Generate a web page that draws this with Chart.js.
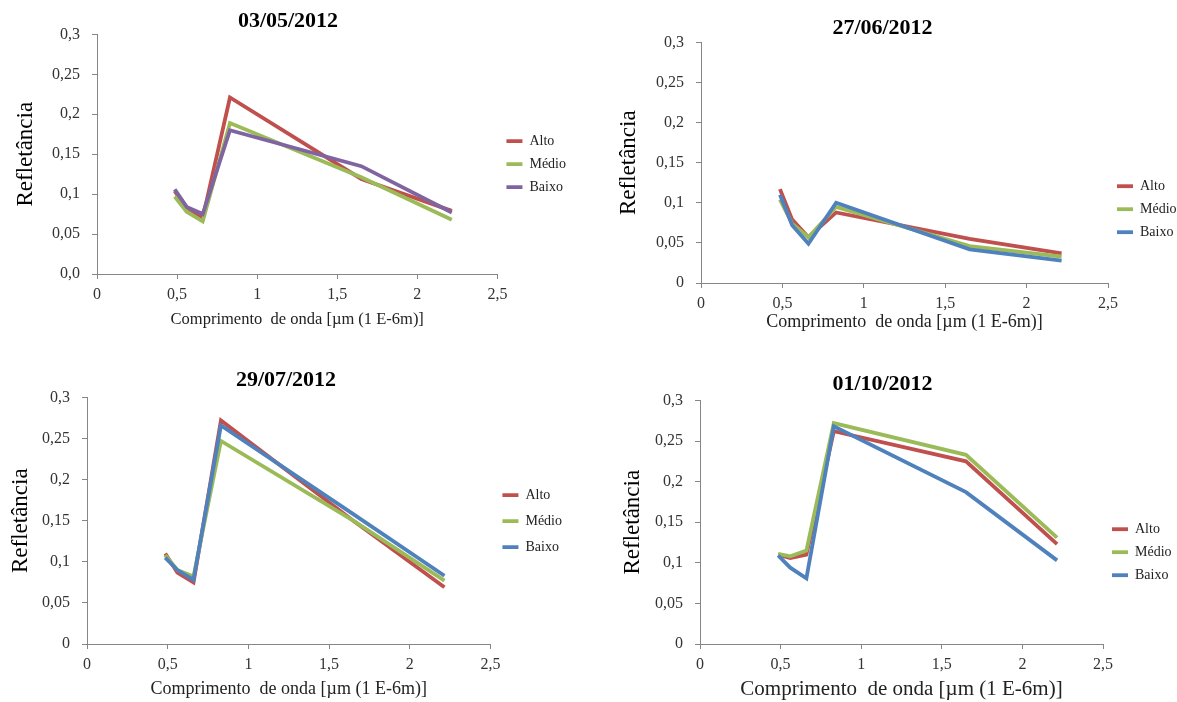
<!DOCTYPE html>
<html>
<head>
<meta charset="utf-8">
<script src="https://cdn.jsdelivr.net/npm/chart.js@4"></script>
<style>
  body { margin: 0; background: #fff; width: 1177px; height: 702px; position: relative; overflow: hidden; }
  .box { position: absolute; }
</style>
</head>
<body>
<div class="box" style="left:0;top:0;"><canvas id="c1" width="588" height="340"></canvas></div>
<div class="box" style="left:588px;top:0;"><canvas id="c2" width="589" height="340"></canvas></div>
<div class="box" style="left:0;top:355px;"><canvas id="c3" width="588" height="347"></canvas></div>
<div class="box" style="left:588px;top:355px;"><canvas id="c4" width="589" height="347"></canvas></div>
<script>
// comprimentos de onda (bandas TM)
const wavelengths = [0.485, 0.56, 0.66, 0.83, 1.65, 2.215];
const seriesNames = ["Alto", "Médio", "Baixo"];
const xTickLabels = ["0", "0,5", "1", "1,5", "2", "2,5"];
const yTickLabelsA = ["0,0", "0,05", "0,1", "0,15", "0,2", "0,25", "0,3"];
const yTickLabelsB = ["0", "0,05", "0,1", "0,15", "0,2", "0,25", "0,3"];

// 03/05/2012
const alto0305 = [0.104, 0.081, 0.070, 0.221, 0.119, 0.079];
const medio0305 = [0.097, 0.078, 0.066, 0.189, 0.121, 0.068];
const baixo0305 = [0.106, 0.084, 0.075, 0.180, 0.135, 0.077];
// 27/06/2012
const alto2706 = [0.117, 0.079, 0.057, 0.088, 0.055, 0.037];
const medio2706 = [0.104, 0.074, 0.057, 0.095, 0.046, 0.033];
const baixo2706 = [0.110, 0.072, 0.049, 0.100, 0.042, 0.028];
// 29/07/2012
const alto2907 = [0.110, 0.087, 0.075, 0.272, 0.150, 0.069];
const medio2907 = [0.108, 0.090, 0.082, 0.247, 0.150, 0.077];
const baixo2907 = [0.105, 0.090, 0.078, 0.266, 0.158, 0.083];
// 01/10/2012
const alto0110 = [0.110, 0.106, 0.110, 0.262, 0.225, 0.123];
const medio0110 = [0.111, 0.108, 0.115, 0.272, 0.233, 0.131];
const baixo0110 = [0.109, 0.094, 0.081, 0.268, 0.187, 0.103];

const RED = "#C0504D", GREEN = "#9BBB59", BLUE = "#4F81BD", PURPLE = "#8064A2";
const FONT = "'Liberation Serif', 'Times New Roman', serif";
const AXIS = "#868686";

function makeChart(id, cfg) {
  const colors = [RED, GREEN, cfg.lastColor];
  const series = [cfg.alto, cfg.medio, cfg.baixo];
  // Baixo primeiro para ficar por cima das outras linhas
  const datasets = [2, 1, 0].map(i => ({
    label: seriesNames[i],
    data: wavelengths.map((w, k) => ({ x: w, y: series[i][k] })),
    borderColor: colors[i],
    backgroundColor: colors[i],
    borderWidth: 3.8,
    pointRadius: 0,
    tension: 0,
    fill: false
  }));

  return new Chart(document.getElementById(id), {
    type: "line",
    data: { datasets },
    options: {
      responsive: false,
      animation: false,
      layout: { padding: { left: 0, right: cfg.padRight, top: 0, bottom: 0 } },
      plugins: {
        title: {
          display: true,
          text: cfg.title,
          color: "#000",
          font: { family: FONT, size: 22, weight: "bold" },
          padding: cfg.titlePad
        },
        legend: {
          position: "right",
          align: "start",
          reverse: true,
          maxWidth: cfg.legendWidth,
          title: { display: true, text: " ", padding: { top: cfg.legendTop, bottom: 0 }, font: { size: 1 } },
          labels: {
            usePointStyle: true,
            pointStyle: "line",
            pointStyleWidth: 16,
            color: "#222",
            padding: cfg.legendGap,
            font: { family: FONT, size: 14 }
          }
        },
        tooltip: { enabled: false }
      },
      scales: {
        x: {
          type: "linear",
          min: 0,
          max: 2.5,
          afterFit: s => { s.height = cfg.xHeight; },
          ticks: {
            stepSize: 0.5,
            color: "#333",
            padding: 6,
            font: { family: FONT, size: 16 },
            callback: (v, i) => xTickLabels[i]
          },
          grid: { display: true, drawOnChartArea: false, drawTicks: true, tickLength: 5, color: AXIS },
          border: { color: AXIS },
          title: {
            display: true,
            text: "Comprimento  de onda [µm (1 E-6m)]",
            color: "#222",
            font: { family: FONT, size: cfg.xTitleSize },
            padding: { top: 0, bottom: cfg.xTitlePad }
          }
        },
        y: {
          min: 0,
          max: 0.3,
          afterFit: s => { s.width = cfg.yWidth; },
          ticks: {
            stepSize: 0.05,
            color: "#333",
            padding: 12,
            font: { family: FONT, size: 16 },
            callback: (v, i) => cfg.yLabels[i]
          },
          grid: { display: true, drawOnChartArea: false, drawTicks: true, tickLength: 5, color: AXIS },
          border: { color: AXIS },
          title: {
            display: true,
            text: "Refletância",
            color: "#000",
            font: { family: FONT, size: 23 },
            padding: { top: cfg.yTitlePad, bottom: 0 }
          }
        }
      }
    }
  });
}

makeChart("c1", {
  title: "03/05/2012", alto: alto0305, medio: medio0305, baixo: baixo0305, lastColor: PURPLE,
  yLabels: yTickLabelsA, yWidth: 97, xHeight: 66, titlePad: { top: 8, bottom: 0 },
  xTitleSize: 16.5, xTitlePad: 10, yTitlePad: 12, padRight: 12, legendWidth: 81,
  legendTop: 124, legendGap: 9
});
makeChart("c2", {
  title: "27/06/2012", alto: alto2706, medio: medio2706, baixo: baixo2706, lastColor: BLUE,
  yLabels: yTickLabelsB, yWidth: 113, xHeight: 57, titlePad: { top: 15, bottom: 1 },
  xTitleSize: 18, xTitlePad: 7, yTitlePad: 27, padRight: 0, legendWidth: 69,
  legendTop: 169, legendGap: 9
});
makeChart("c3", {
  title: "29/07/2012", alto: alto2907, medio: medio2907, baixo: baixo2907, lastColor: BLUE,
  yLabels: yTickLabelsB, yWidth: 87, xHeight: 58, titlePad: { top: 12, bottom: 4 },
  xTitleSize: 18, xTitlePad: 2, yTitlePad: 7, padRight: 16, legendWidth: 84,
  legendTop: 120, legendGap: 12
});
makeChart("c4", {
  title: "01/10/2012", alto: alto0110, medio: medio0110, baixo: baixo0110, lastColor: BLUE,
  yLabels: yTickLabelsB, yWidth: 112, xHeight: 58, titlePad: { top: 16, bottom: 3 },
  xTitleSize: 21, xTitlePad: 0, yTitlePad: 31, padRight: 0, legendWidth: 74,
  legendTop: 157, legendGap: 9
});
</script>
</body>
</html>
